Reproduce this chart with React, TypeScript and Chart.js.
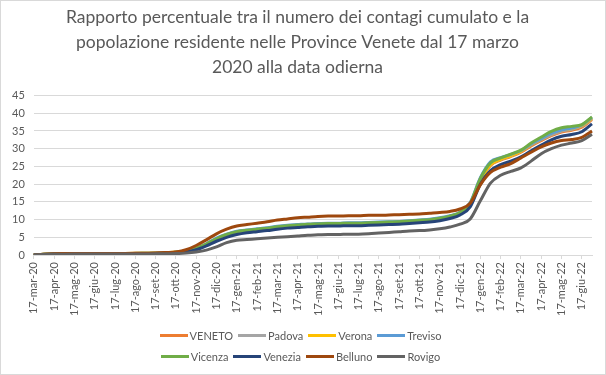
import React, { useEffect, useRef } from "react";
import { Chart, registerables } from "chart.js";
Chart.register(...registerables);

const TICK_LABELS = [
  "17-mar-20", "17-apr-20", "17-mag-20", "17-giu-20", "17-lug-20", "17-ago-20", "17-set-20",
  "17-ott-20", "17-nov-20", "17-dic-20", "17-gen-21", "17-feb-21", "17-mar-21", "17-apr-21",
  "17-mag-21", "17-giu-21", "17-lug-21", "17-ago-21", "17-set-21", "17-ott-21", "17-nov-21",
  "17-dic-21", "17-gen-22", "17-feb-22", "17-mar-22", "17-apr-22", "17-mag-22", "17-giu-22",
];

// semi-monthly samples: 17th of each month and ~2nd of the following month, last = 1-lug-22
const VENETO = [0.05, 0.2, 0.3, 0.35, 0.38, 0.4, 0.4, 0.41, 0.41, 0.42, 0.44, 0.47, 0.5, 0.6, 0.8, 1.0, 1.7, 2.9, 4.3, 5.6, 6.4, 6.8, 7.1, 7.4, 7.8, 8.1, 8.3, 8.5, 8.6, 8.7, 8.7, 8.8, 8.8, 8.9, 9.0, 9.1, 9.2, 9.4, 9.6, 9.8, 10.2, 10.8, 11.8, 14.2, 20.8, 25.3, 26.8, 27.8, 29.0, 30.8, 32.3, 33.7, 34.7, 35.2, 36.1, 38.2];
const PADOVA = [0.05, 0.25, 0.35, 0.4, 0.42, 0.43, 0.44, 0.44, 0.45, 0.46, 0.48, 0.5, 0.53, 0.62, 0.8, 1.0, 1.7, 2.9, 4.3, 5.6, 6.5, 6.9, 7.2, 7.5, 7.9, 8.2, 8.4, 8.6, 8.7, 8.8, 8.8, 8.9, 8.9, 9.0, 9.1, 9.2, 9.3, 9.5, 9.7, 9.9, 10.3, 10.9, 11.9, 14.4, 21.2, 25.6, 27.0, 28.0, 29.3, 31.1, 32.6, 34.0, 35.0, 35.5, 36.4, 38.5];
const VERONA = [0.05, 0.25, 0.38, 0.42, 0.44, 0.45, 0.45, 0.46, 0.46, 0.47, 0.49, 0.52, 0.55, 0.65, 0.85, 1.1, 1.8, 3.0, 4.4, 5.7, 6.5, 6.9, 7.2, 7.5, 7.9, 8.2, 8.4, 8.6, 8.7, 8.8, 8.8, 8.8, 8.9, 8.9, 9.0, 9.1, 9.2, 9.4, 9.6, 9.8, 10.2, 10.8, 11.8, 14.3, 21.0, 25.5, 27.0, 28.0, 29.3, 31.2, 32.8, 34.3, 35.3, 35.8, 36.6, 38.6];
const TREVISO = [0.03, 0.2, 0.3, 0.35, 0.38, 0.39, 0.4, 0.4, 0.41, 0.42, 0.44, 0.47, 0.5, 0.6, 0.8, 1.1, 1.9, 3.2, 4.8, 5.9, 6.7, 7.1, 7.4, 7.7, 8.1, 8.4, 8.6, 8.8, 8.9, 9.0, 9.0, 9.1, 9.1, 9.2, 9.3, 9.4, 9.5, 9.7, 9.9, 10.1, 10.5, 11.1, 12.1, 14.8, 21.8, 26.3, 27.5, 28.4, 29.5, 31.3, 32.8, 34.3, 35.3, 35.8, 36.7, 38.8];
const VICENZA = [0.04, 0.22, 0.33, 0.38, 0.4, 0.41, 0.42, 0.42, 0.43, 0.44, 0.46, 0.49, 0.52, 0.62, 0.82, 1.1, 1.9, 3.1, 4.6, 5.8, 6.6, 7.0, 7.3, 7.6, 8.0, 8.3, 8.5, 8.7, 8.8, 8.9, 8.9, 9.0, 9.0, 9.1, 9.2, 9.3, 9.4, 9.6, 9.8, 10.0, 10.4, 11.0, 12.0, 14.6, 21.6, 26.0, 27.4, 28.5, 29.6, 31.6, 33.3, 34.9, 35.9, 36.3, 36.8, 39.0];
const VENEZIA = [0.03, 0.18, 0.28, 0.32, 0.35, 0.36, 0.37, 0.37, 0.38, 0.39, 0.41, 0.44, 0.47, 0.55, 0.7, 0.9, 1.5, 2.6, 3.9, 5.0, 5.8, 6.3, 6.6, 6.9, 7.3, 7.6, 7.8, 8.0, 8.1, 8.2, 8.2, 8.3, 8.3, 8.4, 8.5, 8.6, 8.7, 8.9, 9.1, 9.3, 9.7, 10.3, 11.3, 13.6, 20.0, 23.8, 25.5, 26.5, 27.7, 29.4, 31.0, 32.5, 33.5, 34.0, 34.8, 37.0];
const BELLUNO = [0.04, 0.25, 0.38, 0.42, 0.44, 0.45, 0.45, 0.46, 0.46, 0.47, 0.49, 0.52, 0.56, 0.7, 0.9, 1.5, 2.7, 4.3, 6.0, 7.3, 8.2, 8.6, 9.0, 9.4, 9.9, 10.2, 10.5, 10.7, 10.9, 11.0, 11.0, 11.1, 11.1, 11.2, 11.2, 11.3, 11.4, 11.5, 11.6, 11.8, 12.0, 12.3, 13.0, 14.6, 19.8, 23.3, 24.8, 25.8, 27.4, 29.0, 30.5, 31.6, 32.3, 32.6, 33.2, 35.0];
const ROVIGO = [0.03, 0.15, 0.22, 0.25, 0.27, 0.28, 0.28, 0.29, 0.29, 0.3, 0.31, 0.33, 0.35, 0.4, 0.42, 0.55, 0.85, 1.4, 2.3, 3.5, 4.2, 4.4, 4.6, 4.8, 5.0, 5.2, 5.4, 5.6, 5.7, 5.8, 5.8, 5.9, 5.9, 6.0, 6.2, 6.4, 6.6, 6.8, 6.9, 7.1, 7.4, 7.9, 8.7, 10.2, 15.3, 20.3, 22.5, 23.6, 24.6, 26.5, 28.6, 30.0, 31.0, 31.6, 32.3, 34.1];

const SERIES_NAMES = ["VENETO", "Padova", "Verona", "Treviso", "Vicenza", "Venezia", "Belluno", "Rovigo"];
const SERIES_DATA = [VENETO, PADOVA, VERONA, TREVISO, VICENZA, VENEZIA, BELLUNO, ROVIGO];
const SERIES_COLORS = ["#ED7D31", "#A5A5A5", "#FFC000", "#5B9BD5", "#70AD47", "#264478", "#9E480E", "#636363"];

const TITLE_LINES = [
  "Rapporto percentuale tra il numero dei contagi cumulato e la",
  "popolazione residente nelle Province Venete dal 17 marzo",
  "2020 alla data odierna",
];

const FONT = "Lato, 'Open Sans', sans-serif";
const TEXT_COLOR = "#595959";

export default function App() {
  const ref = useRef<HTMLCanvasElement>(null);

  useEffect(() => {
    document.body.style.margin = "0";
    const n = VENETO.length;
    const labels: string[] = [];
    for (let i = 0; i < n; i++) labels.push(i % 2 === 0 && TICK_LABELS[i / 2] ? TICK_LABELS[i / 2] : "");

    const borderPlugin = {
      id: "frame",
      beforeDraw(chart: any) {
        const c = chart.ctx;
        c.save();
        c.fillStyle = "#ffffff";
        c.fillRect(0, 0, chart.width, chart.height);
        c.strokeStyle = "#d9d9d9";
        c.lineWidth = 1;
        c.strokeRect(0.5, 0.5, chart.width - 1, chart.height - 1);
        c.restore();
      },
    };

    const chart = new Chart(ref.current as HTMLCanvasElement, {
      type: "line",
      data: {
        labels,
        datasets: SERIES_NAMES.map((name, i) => ({
          label: name,
          data: SERIES_DATA[i],
          borderColor: SERIES_COLORS[i],
          backgroundColor: SERIES_COLORS[i],
          borderWidth: 3,
          pointRadius: 0,
          cubicInterpolationMode: "monotone" as const,
          fill: false,
          order: -i,
        })),
      },
      options: {
        responsive: false,
        animation: false,
        layout: { padding: { left: 3, right: 14, top: 0, bottom: 56 } },
        plugins: {
          legend: { display: false },
          tooltip: { enabled: false },
          title: {
            display: true,
            text: TITLE_LINES,
            color: TEXT_COLOR,
            font: { family: FONT, size: 17.5, weight: "normal", lineHeight: 1.42 },
            padding: { top: 5, bottom: 16 },
          },
        },
        scales: {
          x: {
            type: "category",
            offset: false,
            grid: { drawOnChartArea: false, drawTicks: true, tickLength: 4, color: "#d9d9d9" },
            border: { display: true, color: "#d9d9d9" },
            ticks: {
              autoSkip: false,
              maxRotation: 90,
              minRotation: 90,
              padding: 3,
              color: TEXT_COLOR,
              font: { family: FONT, size: 11 },
              callback: function (this: any, value: any) {
                const l = this.getLabelForValue(value);
                return l ? l : null;
              },
            },
          },
          y: {
            min: 0,
            max: 45,
            ticks: { stepSize: 5, color: TEXT_COLOR, font: { family: FONT, size: 11 }, padding: 9 },
            grid: { color: "#d9d9d9", drawTicks: false },
            border: { display: false },
          },
        },
      },
      plugins: [borderPlugin],
    });
    return () => chart.destroy();
  }, []);

  const rows = [SERIES_NAMES.slice(0, 4), SERIES_NAMES.slice(4, 8)];
  return (
    <div style={{ position: "relative", width: 606, height: 375 }}>
      <canvas ref={ref} width={606} height={375} style={{ position: "absolute", left: 0, top: 0, width: 606, height: 375 }} />
      <div style={{ position: "absolute", left: 0, top: 325, width: 606, fontFamily: FONT, fontSize: 11, color: TEXT_COLOR }}>
        {rows.map((row, r) => (
          <div key={r} style={{ display: "flex", justifyContent: "center", alignItems: "center", height: 21 }}>
            {row.map((name) => {
              const idx = SERIES_NAMES.indexOf(name);
              return (
                <div key={name} style={{ display: "flex", alignItems: "center", marginRight: 5 }}>
                  <span style={{ display: "inline-block", width: 28, height: 3, background: SERIES_COLORS[idx], marginRight: 2 }} />
                  <span>{name}</span>
                </div>
              );
            })}
          </div>
        ))}
      </div>
    </div>
  );
}
